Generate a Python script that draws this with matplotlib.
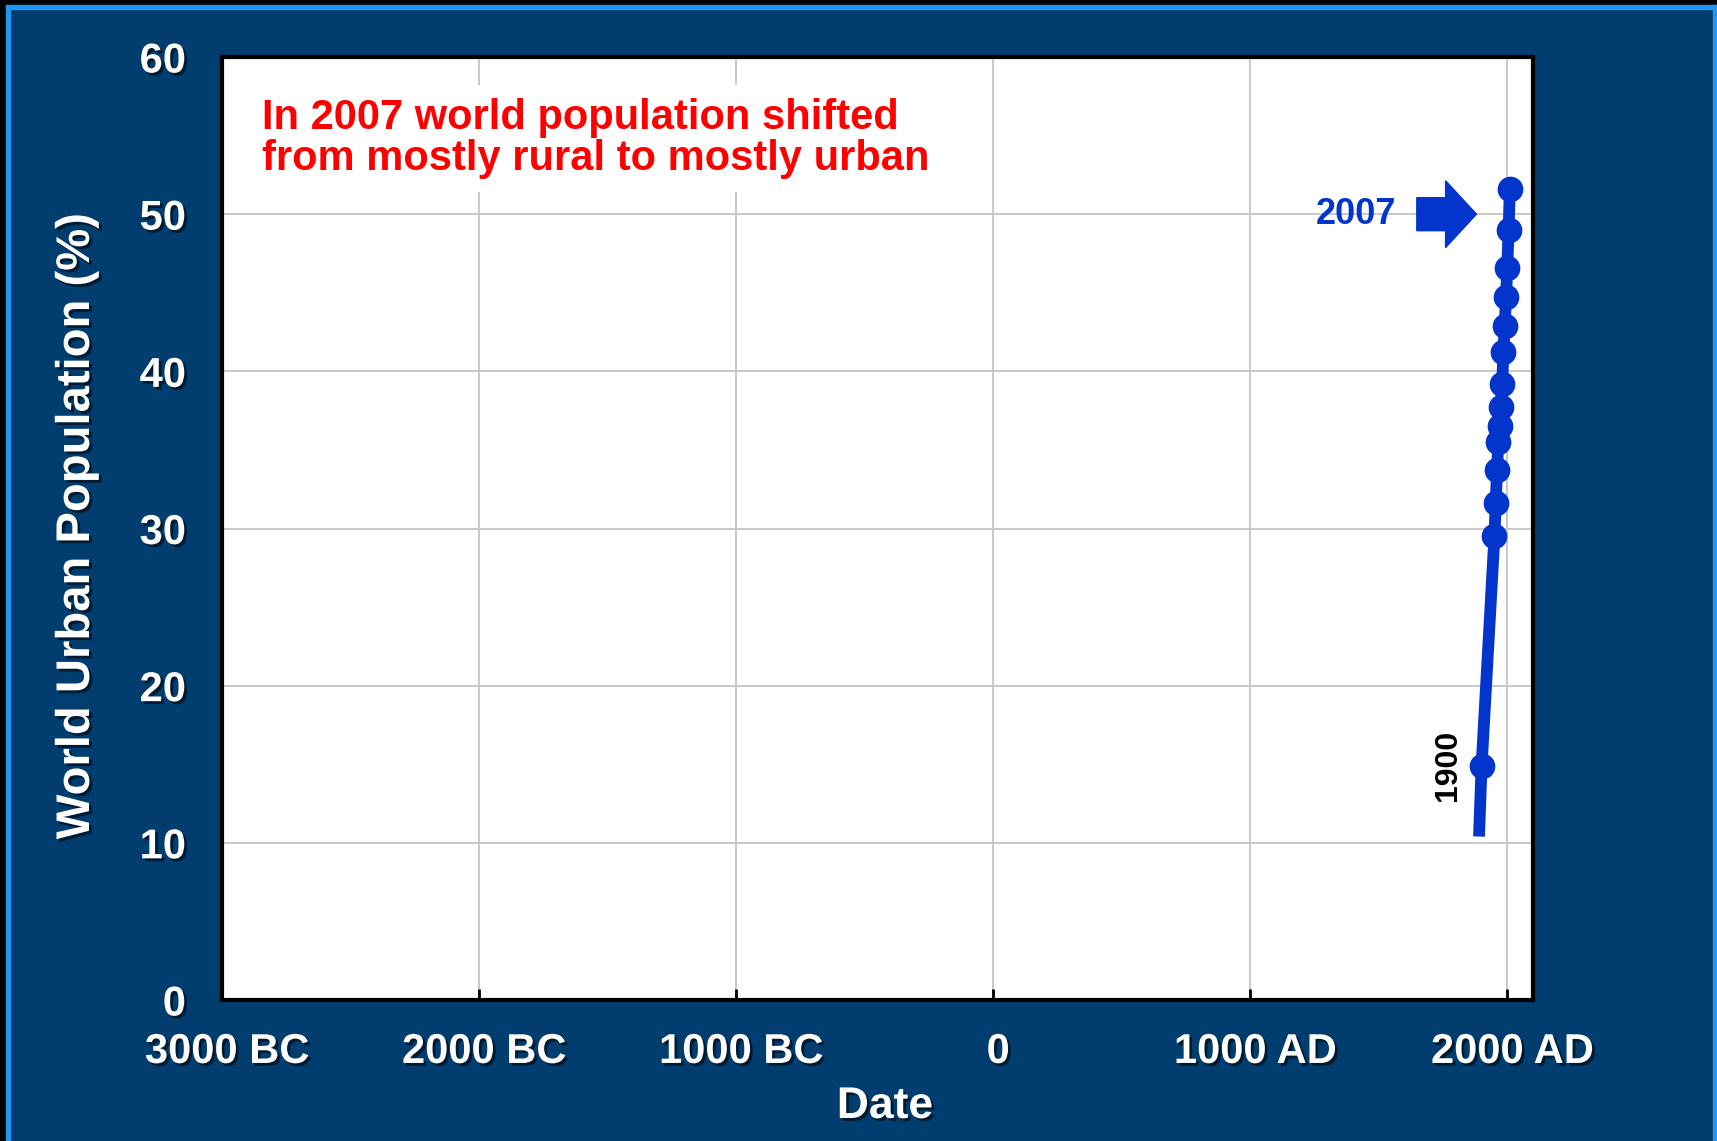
import matplotlib
matplotlib.use("Agg")
import matplotlib.pyplot as plt
import matplotlib.patheffects as pe
import matplotlib.transforms as mtransforms
from matplotlib import font_manager
from matplotlib.patches import Rectangle

# world urban population (%) by year
years = [1890, 1900, 1950, 1955, 1960, 1965, 1970, 1975, 1980, 1985, 1990, 1995, 2000, 2005, 2010]
urban = [10.4, 14.9, 29.5, 31.6, 33.7, 35.5, 36.5, 37.7, 39.2, 41.2, 42.9, 44.7, 46.6, 49.0, 51.6]

xticks = [-3000, -2000, -1000, 0, 1000, 2000]
xtick_labels = ["3000 BC", "2000 BC", "1000 BC", "0", "1000 AD", "2000 AD"]
yticks = [0, 10, 20, 30, 40, 50, 60]

bg = "#023D6F"
blue = "#0334CC"
font = "Liberation Sans"
names = {f.name for f in font_manager.fontManager.ttflist}
narrow = "Liberation Sans Narrow" if "Liberation Sans Narrow" in names else font
plt.rcParams["font.family"] = [font, "DejaVu Sans"]

shadow = [pe.withSimplePatchShadow(offset=(2, -2), shadow_rgbFace="black", alpha=0.55)]

fig = plt.figure(figsize=(17.17, 11.41), dpi=100, facecolor=bg)

# slide border
fig.patches.append(Rectangle((0, 0), 6 / 1717, 1, transform=fig.transFigure, color="black", zorder=0))
fig.patches.append(Rectangle((6 / 1717, 0), 4 / 1717, 1 - 5 / 1141, transform=fig.transFigure, color="#2196F3", zorder=0))
fig.patches.append(Rectangle((0, 1 - 5 / 1141), 1, 5 / 1141, transform=fig.transFigure, color="black", zorder=0))
fig.patches.append(Rectangle((6 / 1717, 1 - 9 / 1141), 1, 4 / 1141, transform=fig.transFigure, color="#2196F3", zorder=0))
fig.patches.append(Rectangle((1 - 4 / 1717, 0), 4 / 1717, 1 - 5 / 1141, transform=fig.transFigure, color="#2196F3", zorder=0))

ax = fig.add_axes([222 / 1717, 1 - 1000 / 1141, 1311 / 1717, 943 / 1141])
ax.set_facecolor("white")

ax.plot(years, urban, color=blue, lw=8.5, marker="o", ms=17.5, mfc=blue, mec=blue,
        markevery=list(range(1, len(years))), solid_capstyle="butt", zorder=3)

ax.set_xlim(-3000, 2100)
ax.set_ylim(0, 60)
ax.set_xticks(xticks)
ax.set_xticklabels(xtick_labels)
ax.set_yticks(yticks)
ax.grid(True, color="#C4C4C4", lw=1.3)
ax.set_axisbelow(True)
for s in ax.spines.values():
    s.set_linewidth(3)
    s.set_color("black")
ax.tick_params(axis="x", direction="in", length=8, width=2, color="black", pad=23,
               labelsize=30, labelcolor="white")
ax.tick_params(axis="y", length=0, pad=26, labelsize=30, labelcolor="white")
shift = mtransforms.ScaledTranslation(5 / 100, 0, fig.dpi_scale_trans)
for lab in ax.get_xticklabels():
    lab.set_transform(lab.get_transform() + shift)
for lab in ax.get_xticklabels() + ax.get_yticklabels():
    lab.set_fontweight("bold")
    lab.set_path_effects(shadow)

fig.text(77 / 1717, 1 - 526 / 1141, "World Urban Population (%)", rotation=90, ha="center", va="center",
         fontsize=34, fontweight="bold", color="white", path_effects=shadow)
fig.text(885 / 1717, 1 - 1118 / 1141, "Date", ha="center", va="baseline",
         fontsize=32, fontweight="bold", color="white", path_effects=shadow)

ax.text(0.0303, 0.957, "In 2007 world population shifted\nfrom mostly rural to mostly urban",
        transform=ax.transAxes, ha="left", va="top", fontsize=30, fontweight="bold",
        color="#FF0000", linespacing=1.06,
        bbox=dict(facecolor="white", edgecolor="none", pad=9))

ax.arrow(1648, 50, 232, 0, width=2.1, head_width=4.25, head_length=120,
         length_includes_head=True, color=blue, zorder=4)
ax.text(1567, 50, "2007", ha="right", va="center", fontsize=26, fontweight="bold", color=blue)
ax.text(1768, 14.9, "1900", rotation=90, ha="center", va="center", fontsize=23,
        fontweight="bold", family=[narrow, "DejaVu Sans"], color="black")

fig.savefig("out.png", dpi=100, facecolor=bg)
